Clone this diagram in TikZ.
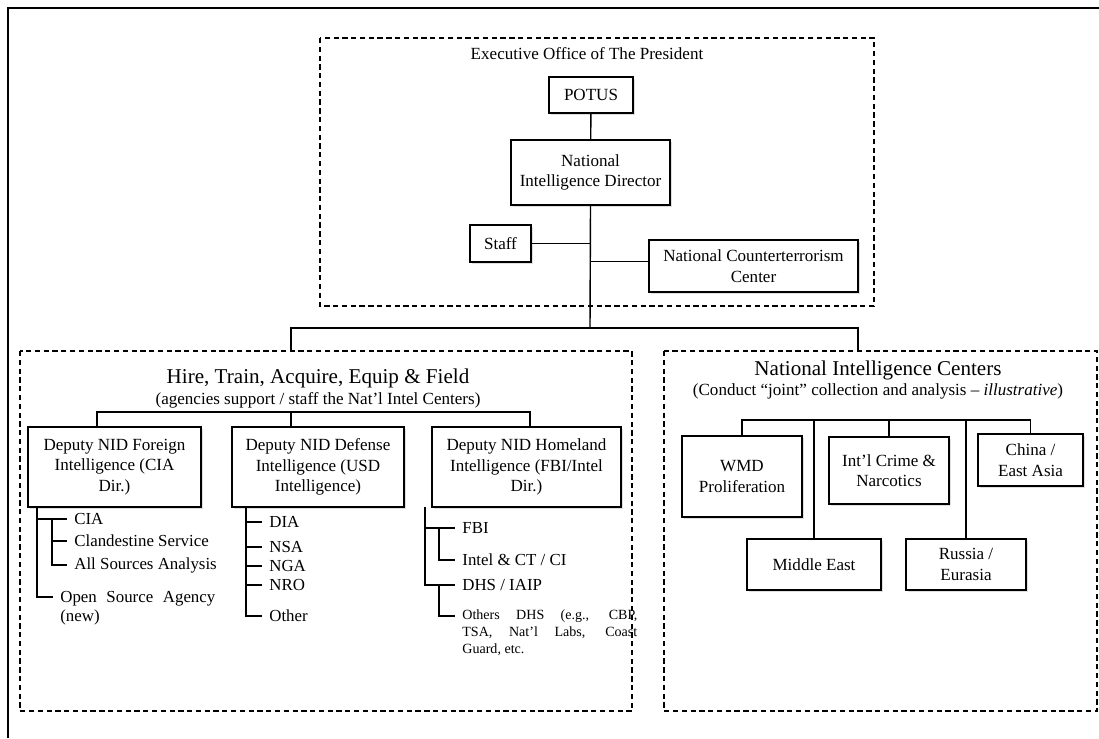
\documentclass[tikz,border=0pt]{standalone}
\usepackage{fontspec}
\setmainfont{Liberation Serif}
\usetikzlibrary{shadows}

\begin{document}
\begin{tikzpicture}[x=0.02cm,y=-0.02cm,
  box/.style={draw,line width=0.8pt,fill=white,align=center,inner sep=1pt,
    font=\fontsize{9.7}{11.7}\selectfont,
    drop shadow={opacity=0.25,shadow xshift=1pt,shadow yshift=-1pt}},
  grp/.style={draw,line width=0.7pt,dash pattern=on 3pt off 2pt},
  link/.style={line width=0.8pt},
  item/.style={anchor=west,inner xsep=4pt,inner ysep=1pt,font=\fontsize{9.6}{11}\selectfont},
  ttl/.style={font=\fontsize{12}{14}\selectfont},
  sub/.style={font=\fontsize{9.7}{11}\selectfont}]

\useasboundingbox (0,0) rectangle (1099,738);
% page frame
\draw[line width=0.9pt] (8,738) -- (8,8) -- (1099,8);

% Executive Office of The President
\draw[grp] (320,38) rectangle (874,306);
\node[sub] (eotp) at (587,54) {Executive Office of The President};
\node[box,minimum width=1.68cm,minimum height=0.72cm] (potus) at (591,95) {POTUS};
\node[box,minimum width=3.18cm,minimum height=1.3cm] (nid) at (590.5,172.5) {National\\Intelligence Director};
\node[box,minimum width=1.22cm,minimum height=0.74cm] (staff) at (500.5,243.5) {Staff};
\node[box,minimum width=4.18cm,minimum height=1.04cm] (nctc) at (753.5,266) {National Counterterrorism\\Center};

\coordinate (hub) at (590,328);
\draw[link] (potus) -- (nid);
\draw[link] (nid.south) -- (hub);
\draw[link] (staff.east) -- (staff.east -| hub);
\draw[link] ([yshift=2.5pt]nctc.west) -- ([yshift=2.5pt]nctc.west -| hub);

% Hire, Train, Acquire, Equip & Field
\draw[grp] (20,351) rectangle (632,711);
\node[ttl] (hire) at (318,378) {Hire, Train, Acquire, Equip \& Field};
\node[sub] (hiresub) at (318,400) {(agencies support / staff the Nat’l Intel Centers)};

% National Intelligence Centers
\draw[grp] (664,351) rectangle (1097,711);
\node[ttl] (nic) at (878,370) {National Intelligence Centers};
\node[sub] (nicsub) at (878,391) {(Conduct “joint” collection and analysis – \textit{illustrative})};

\coordinate (hireIn) at (291,351);
\coordinate (nicIn) at (858,351);
\draw[link] (hireIn) |- (hub) -| (nicIn);

% deputies
\node[box,minimum width=3.46cm,minimum height=1.6cm] (dfor) at (114.5,467) {Deputy NID Foreign\\Intelligence (CIA\\Dir.)};
\node[box,minimum width=3.44cm,minimum height=1.6cm] (ddef) at (318,467) {Deputy NID Defense\\Intelligence (USD\\Intelligence)};
\node[box,minimum width=3.78cm,minimum height=1.6cm] (dhom) at (526.5,467) {Deputy NID Homeland\\Intelligence (FBI/Intel\\Dir.)};

\coordinate (d1) at (97,412);
\coordinate (d2) at (291,412);
\coordinate (d3) at (530,412);
\draw[link] (d1 |- dfor.north) -- (d1) -- (d3) -- (d3 |- dhom.north);
\draw[link] (d2) -- (d2 |- ddef.north);

% foreign
\node[item] (cia) at (67,519) {CIA};
\node[item] (clan) at (67,541) {Clandestine Service};
\node[item] (allsrc) at (67,565) {All Sources Analysis};
\node[anchor=north west,inner xsep=4pt,inner ysep=1pt,text width=3.1cm,align=justify,
  font=\fontsize{9.6}{11}\selectfont] (osa) at (53,589) {Open Source Agency\linebreak (new)};
\coordinate (f0) at (37,507);
\coordinate (f1) at (52,519);
\coordinate (osaTick) at (53,597);
\draw[link] (f0) |- (osaTick);
\draw[link] (f0 |- cia.west) -- (cia.west);
\draw[link] (f1) |- (allsrc.west);
\draw[link] (f1 |- clan.west) -- (clan.west);

% defense
\foreach \n/\t/\y in {dia/DIA/522, nsa/NSA/547, nga/NGA/566, nro/NRO/585, oth/Other/616} {
  \node[item] (\n) at (262,\y) {\t};
}
\coordinate (g0) at (246,507);
\draw[link] (g0) |- (oth.west);
\foreach \n in {dia,nsa,nga,nro} {
  \draw[link] (g0 |- \n.west) -- (\n.west);
}

% homeland
\node[item] (fbi) at (455,528) {FBI};
\node[item] (ict) at (455,560) {Intel \& CT / CI};
\node[item] (dhs) at (455,585) {DHS / IAIP};
\node[anchor=north west,inner xsep=4pt,inner ysep=1pt,text width=3.5cm,align=justify,
  font=\fontsize{8}{9.7}\selectfont] (odhs) at (455,608)
  {Others DHS (e.g., CBP,\linebreak TSA, Nat’l Labs, Coast\linebreak Guard, etc.};
\coordinate (h0) at (425,507);
\coordinate (h1) at (439,528);
\coordinate (h2) at (439,585);
\coordinate (odhsTick) at (455,616);
\draw[link] (h0) |- (dhs.west);
\draw[link] (h0 |- fbi.west) -- (fbi.west);
\draw[link] (h1) |- (ict.west);
\draw[link] (h2) |- (odhsTick);

% centers
\node[box,minimum width=2.4cm,minimum height=1.62cm] (wmd) at (742,476.5) {WMD\\Proliferation};
\node[box,minimum width=2.4cm,minimum height=1.34cm] (crime) at (889,470.5) {Int’l Crime \&\\Narcotics};
\node[box,minimum width=2.1cm,minimum height=1.04cm] (china) at (1030.5,460) {China /\\East Asia};
\node[box,minimum width=2.68cm,minimum height=1.02cm] (mideast) at (814,564.5) {Middle East};
\node[box,minimum width=2.4cm,minimum height=1.02cm] (russia) at (966,564.5) {Russia /\\Eurasia};

\coordinate (cbar) at (888,420);
\draw[link] (wmd.north) |- (cbar) -| (china.north);
\foreach \n in {mideast,crime,russia} {
  \draw[link] (\n.north) -- (\n.north |- cbar);
}

\end{tikzpicture}
\end{document}
